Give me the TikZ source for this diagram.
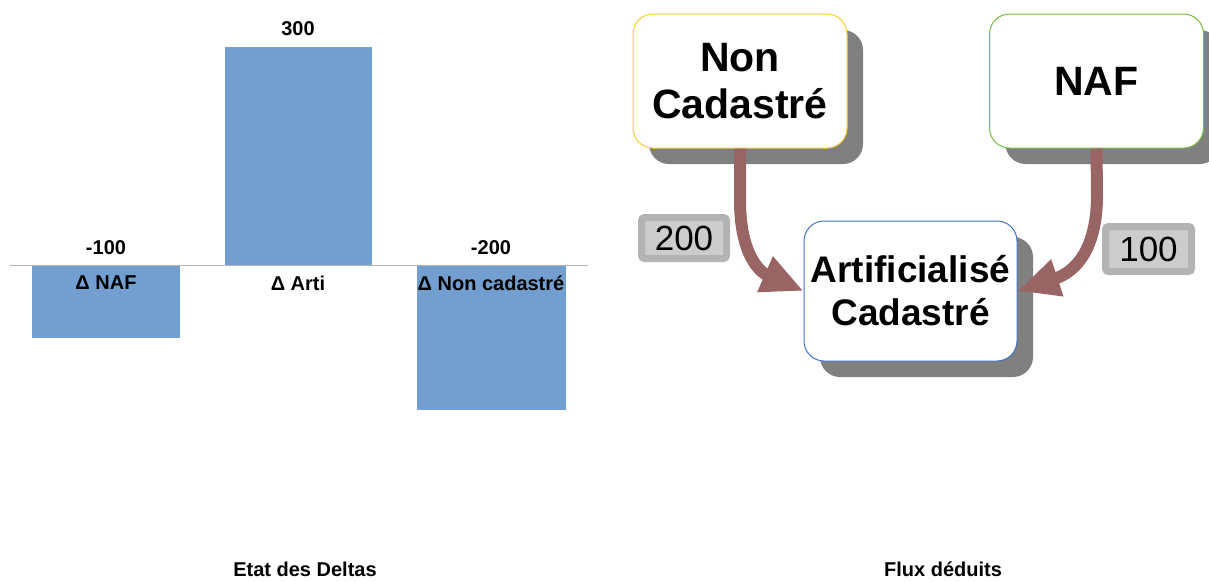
\documentclass[tikz,border=0pt]{standalone}
\usepackage{fontspec}
\setmainfont{Liberation Sans}
\usepackage{xcolor}
\usetikzlibrary{shadows,arrows.meta}
\definecolor{bar-blue}{HTML}{729FCF}
\definecolor{axis-gray}{HTML}{B3B3B3}
\definecolor{shadow-gray}{HTML}{808080}
\definecolor{flow-red}{HTML}{996464}
\definecolor{nc-yellow}{HTML}{FFCC33}
\definecolor{naf-green}{HTML}{77BC43}
\definecolor{art-blue}{HTML}{4472C4}
\tikzset{
    zone-box/.style = {fill=white, line width=1pt, rectangle, rounded corners=20pt, align=center,
        minimum width=214pt, minimum height=134pt, font=\fontsize{41}{47}\selectfont\bfseries,
        drop shadow={shadow xshift=16pt, shadow yshift=-16pt, fill=shadow-gray, opacity=1}},
    flow-arrow/.style = {draw=flow-red, line width=12pt, -{Triangle[length=42pt,width=36pt]}},
    flow-value/.style = {fill=black!20, draw=axis-gray, line width=7pt, rounded corners=3pt,
        minimum width=85pt, minimum height=41pt, inner sep=0pt, font=\fontsize{35}{38}\selectfont},
    chart-label/.style = {font=\fontsize{20}{24}\selectfont\bfseries, inner sep=0pt},
}

\begin{document}
\begin{tikzpicture}[x=1pt, y=-1pt]
\useasboundingbox (0,0) rectangle (1209,581);
% bar chart
\fill[bar-blue] (32,265) rectangle (180,338);
\fill[bar-blue] (225,47) rectangle (372,265);
\fill[bar-blue] (417,265) rectangle (566,410);
\draw[axis-gray, line width=1pt] (10,265) -- (588,265);
\node[chart-label] (val-arti) at (298,29) {300};
\node[chart-label] (val-naf) at (106,248) {-100};
\node[chart-label] (val-nc) at (491,248) {-200};
\node[chart-label] (cat-naf) at (106,283) {Δ NAF};
\node[chart-label] (cat-arti) at (298,283) {Δ Arti};
\node[chart-label] (cat-nc) at (491,283) {Δ Non cadastré};
\node[chart-label] (title-deltas) at (305,569) {Etat des Deltas};
% flux
\node[zone-box, draw=nc-yellow] (nc) at (740,81) {Non\\Cadastré};
\node[zone-box, draw=naf-green] (naf) at (1096.5,81) {NAF};
\node[zone-box, draw=art-blue, minimum width=213pt, minimum height=140pt,
    font=\fontsize{37}{43}\selectfont\bfseries] (art) at (910.5,291) {Artificialisé\\Cadastré};
\draw[flow-arrow] (nc.south) -- (740,200) .. controls (740,255) and (760,272) .. (art.west);
\draw[flow-arrow] (naf.south) -- (1097,195) .. controls (1097,250) and (1075,272) .. (art.east);
\node[flow-value] (val-200) at (684,238) {200};
\node[flow-value, minimum width=86pt, minimum height=45pt] (val-100) at (1148.5,249) {100};
\node[chart-label] (title-flux) at (943,569) {Flux déduits};
\end{tikzpicture}
\end{document}
